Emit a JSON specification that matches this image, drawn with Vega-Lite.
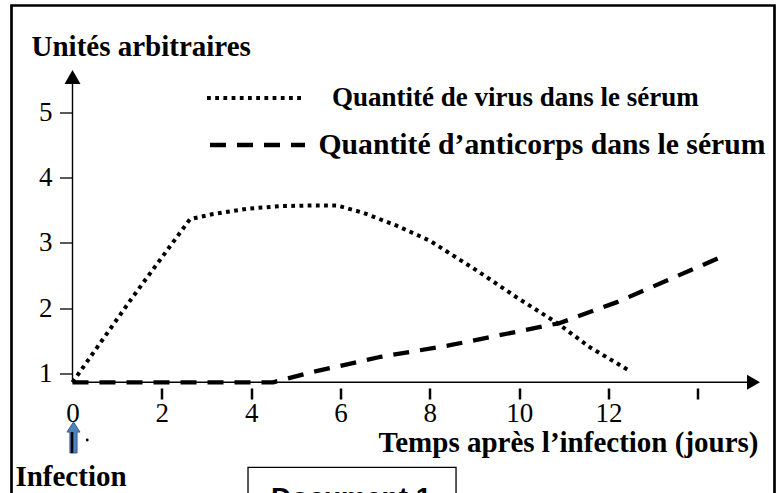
{
  "$schema": "https://vega.github.io/schema/vega-lite/v6.json",
  "width": 763,
  "height": 495,
  "autosize": {"type": "none"},
  "padding": {"left": 11.5, "top": 5.5, "right": 7.5, "bottom": 0},
  "background": "white",
  "config": {
    "view": {"stroke": "black", "strokeWidth": 2.7},
    "font": "Liberation Serif"
  },
  "resolve": {"scale": {"strokeDash": "independent"}, "legend": {"strokeDash": "independent"}},
  "layer": [
    {
      "data": {"values": [{}]},
      "mark": {"type": "rule", "color": "black", "strokeWidth": 1.4},
      "encoding": {
        "x": {"datum": 0, "type": "quantitative", "scale": {"domain": [-1.3656, 15.715], "nice": false, "zero": false}},
        "x2": {"datum": 15.2},
        "y": {"datum": 0.862, "type": "quantitative", "scale": {"domain": [-0.9479, 6.6325], "nice": false, "zero": false}}
      }
    },
    {
      "data": {"values": [{}]},
      "mark": {"type": "rule", "color": "black", "strokeWidth": 1.4},
      "encoding": {
        "x": {"datum": 0, "type": "quantitative", "scale": {"domain": [-1.3656, 15.715], "nice": false, "zero": false}},
        "y": {"datum": 0.862, "type": "quantitative", "scale": {"domain": [-0.9479, 6.6325], "nice": false, "zero": false}},
        "y2": {"datum": 5.5}
      }
    },
    {
      "data": {"values": [{}]},
      "mark": {"type": "point", "shape": "triangle-up", "size": 256, "filled": true, "color": "black", "opacity": 1, "strokeWidth": 0},
      "encoding": {
        "x": {"datum": 0, "type": "quantitative", "scale": {"domain": [-1.3656, 15.715], "nice": false, "zero": false}},
        "y": {"datum": 5.538, "type": "quantitative", "scale": {"domain": [-0.9479, 6.6325], "nice": false, "zero": false}}
      }
    },
    {
      "data": {"values": [{}]},
      "mark": {"type": "point", "shape": "triangle-right", "size": 225, "filled": true, "color": "black", "opacity": 1, "strokeWidth": 0},
      "encoding": {
        "x": {"datum": 15.245, "type": "quantitative", "scale": {"domain": [-1.3656, 15.715], "nice": false, "zero": false}},
        "y": {"datum": 0.862, "type": "quantitative", "scale": {"domain": [-0.9479, 6.6325], "nice": false, "zero": false}}
      }
    },
    {
      "data": {
        "values": [
          {"day": 0, "value": 0.862, "series": "Quantité de virus dans le sérum"},
          {"day": 1.35, "value": 2.17, "series": "Quantité de virus dans le sérum"},
          {"day": 2.63, "value": 3.36, "series": "Quantité de virus dans le sérum"},
          {"day": 3.15, "value": 3.44, "series": "Quantité de virus dans le sérum"},
          {"day": 3.91, "value": 3.52, "series": "Quantité de virus dans le sérum"},
          {"day": 4.65, "value": 3.56, "series": "Quantité de virus dans le sérum"},
          {"day": 5.38, "value": 3.57, "series": "Quantité de virus dans le sérum"},
          {"day": 5.92, "value": 3.57, "series": "Quantité de virus dans le sérum"},
          {"day": 6.5, "value": 3.46, "series": "Quantité de virus dans le sérum"},
          {"day": 7.26, "value": 3.26, "series": "Quantité de virus dans le sérum"},
          {"day": 8.0, "value": 3.03, "series": "Quantité de virus dans le sérum"},
          {"day": 9.06, "value": 2.57, "series": "Quantité de virus dans le sérum"},
          {"day": 9.95, "value": 2.16, "series": "Quantité de virus dans le sérum"},
          {"day": 10.85, "value": 1.77, "series": "Quantité de virus dans le sérum"},
          {"day": 11.58, "value": 1.4, "series": "Quantité de virus dans le sérum"},
          {"day": 12.44, "value": 1.05, "series": "Quantité de virus dans le sérum"}
        ]
      },
      "mark": {"type": "line", "strokeCap": "butt", "strokeJoin": "round", "strokeWidth": 4, "color": "black", "clip": false},
      "encoding": {
        "x": {
          "field": "day", "type": "quantitative",
          "scale": {"domain": [-1.3656, 15.715], "nice": false, "zero": false},
          "axis": {
            "orient": "bottom", "offset": -112.5, "values": [0, 2, 4, 6, 8, 10, 12, 14], "format": "d",
            "domain": false, "grid": false, "tickSize": 11, "tickWidth": 2.5, "tickColor": "black",
            "tickOpacity": {"condition": {"test": "datum.value == 0", "value": 0}, "value": 1},
            "labelExpr": "datum.value == 14 ? '' : datum.label",
            "labelFont": "Liberation Serif", "labelFontSize": 27, "labelColor": "black",
            "labelBaseline": "alphabetic", "labelPadding": 22, "labelOverlap": false, "labelFlush": false,
            "title": "Temps après l’infection (jours)",
            "titleFont": "Liberation Serif", "titleFontWeight": "bold", "titleFontSize": 29, "titleColor": "black",
            "titleAlign": "right", "titleBaseline": "alphabetic", "titleAngle": 0, "titleX": 746.5, "titleY": 63
          }
        },
        "y": {
          "field": "value", "type": "quantitative",
          "scale": {"domain": [-0.9479, 6.6325], "nice": false, "zero": false},
          "axis": {
            "orient": "left", "offset": -61, "values": [1, 2, 3, 4, 5], "format": "d",
            "domain": false, "grid": false, "tickSize": 13, "tickWidth": 1.3, "tickColor": "black",
            "labelFont": "Liberation Serif", "labelFontSize": 27, "labelColor": "black", "labelPadding": 7.5,
            "title": "Unités arbitraires",
            "titleFont": "Liberation Serif", "titleFontWeight": "bold", "titleFontSize": 29, "titleColor": "black",
            "titleAngle": 0, "titleAlign": "left", "titleBaseline": "alphabetic", "titleX": -41.5, "titleY": 49.5
          }
        },
        "strokeDash": {
          "field": "series", "type": "nominal",
          "scale": {"domain": ["Quantité de virus dans le sérum"], "range": [[3.8, 4.4]]},
          "legend": {
            "orient": "none", "legendX": 193.5, "legendY": 79.5, "title": null, "padding": 0,
            "symbolType": "stroke", "symbolSize": 9025, "symbolStrokeWidth": 4, "symbolStrokeColor": "black",
            "labelFont": "Liberation Serif", "labelFontWeight": "bold", "labelFontSize": 27, "labelColor": "black",
            "labelLimit": 1000, "labelOffset": 28, "clipHeight": 26
          }
        }
      }
    },
    {
      "data": {
        "values": [
          {"day": 0, "value": 0.862, "series": "Quantité d’anticorps dans le sérum"},
          {"day": 4.49, "value": 0.862, "series": "Quantité d’anticorps dans le sérum"},
          {"day": 5.38, "value": 1.02, "series": "Quantité d’anticorps dans le sérum"},
          {"day": 6.88, "value": 1.25, "series": "Quantité d’anticorps dans le sérum"},
          {"day": 8.45, "value": 1.43, "series": "Quantité d’anticorps dans le sérum"},
          {"day": 10.91, "value": 1.77, "series": "Quantité d’anticorps dans le sérum"},
          {"day": 12.19, "value": 2.09, "series": "Quantité d’anticorps dans le sérum"},
          {"day": 14.45, "value": 2.76, "series": "Quantité d’anticorps dans le sérum"}
        ]
      },
      "mark": {"type": "line", "strokeCap": "butt", "strokeJoin": "round", "strokeWidth": 4.3, "color": "black", "clip": false},
      "encoding": {
        "x": {"field": "day", "type": "quantitative", "scale": {"domain": [-1.3656, 15.715], "nice": false, "zero": false}},
        "y": {"field": "value", "type": "quantitative", "scale": {"domain": [-0.9479, 6.6325], "nice": false, "zero": false}},
        "strokeDash": {
          "field": "series", "type": "nominal",
          "scale": {"domain": ["Quantité d’anticorps dans le sérum"], "range": [[16, 11]]},
          "legend": {
            "orient": "none", "legendX": 196, "legendY": 126.5, "title": null, "padding": 0,
            "symbolType": "stroke", "symbolSize": 9025, "symbolStrokeWidth": 4.3, "symbolStrokeColor": "black",
            "labelFont": "Liberation Serif", "labelFontWeight": "bold", "labelFontSize": 29.7, "labelColor": "black",
            "labelLimit": 1000, "labelOffset": 11, "clipHeight": 26
          }
        }
      }
    },
    {
      "data": {"values": [{}]},
      "mark": {"type": "text", "text": "Infection", "font": "Liberation Serif", "fontWeight": "bold", "fontSize": 29, "align": "center", "baseline": "alphabetic", "color": "black"},
      "encoding": {
        "x": {"datum": -0.034, "type": "quantitative", "scale": {"domain": [-1.3656, 15.715], "nice": false, "zero": false}},
        "y": {"datum": -0.726, "type": "quantitative", "scale": {"domain": [-0.9479, 6.6325], "nice": false, "zero": false}}
      }
    },
    {
      "data": {"values": [{}]},
      "mark": {"type": "point", "shape": "M0,-1L0.42,-0.35L0.23,-0.35L0.23,1L-0.23,1L-0.23,-0.35L-0.42,-0.35Z", "size": 961, "filled": true, "fill": "#4f81bd", "stroke": "#385d8a", "strokeWidth": 1, "opacity": 1},
      "encoding": {
        "x": {"datum": 0.022, "type": "quantitative", "scale": {"domain": [-1.3656, 15.715], "nice": false, "zero": false}},
        "y": {"datum": 0.017, "type": "quantitative", "scale": {"domain": [-0.9479, 6.6325], "nice": false, "zero": false}}
      }
    },
    {
      "data": {"values": [{}]},
      "mark": {"type": "rule", "color": "black", "strokeWidth": 2.5},
      "encoding": {
        "x": {"datum": -0.01, "type": "quantitative", "scale": {"domain": [-1.3656, 15.715], "nice": false, "zero": false}},
        "y": {"datum": 0.1, "type": "quantitative", "scale": {"domain": [-0.9479, 6.6325], "nice": false, "zero": false}},
        "y2": {"datum": -0.22}
      }
    },
    {
      "data": {"values": [{}]},
      "mark": {"type": "point", "shape": "circle", "size": 8, "filled": true, "color": "black", "opacity": 1},
      "encoding": {
        "x": {"datum": 0.33, "type": "quantitative", "scale": {"domain": [-1.3656, 15.715], "nice": false, "zero": false}},
        "y": {"datum": -0.021, "type": "quantitative", "scale": {"domain": [-0.9479, 6.6325], "nice": false, "zero": false}}
      }
    },
    {
      "data": {"values": [{}]},
      "mark": {"type": "rect", "fill": "white", "stroke": "black", "strokeWidth": 1.3},
      "encoding": {
        "x": {"datum": 3.929, "type": "quantitative", "scale": {"domain": [-1.3656, 15.715], "nice": false, "zero": false}},
        "x2": {"datum": 8.586},
        "y": {"datum": -0.4395, "type": "quantitative", "scale": {"domain": [-0.9479, 6.6325], "nice": false, "zero": false}},
        "y2": {"datum": -1.3}
      }
    },
    {
      "data": {"values": [{}]},
      "mark": {"type": "text", "text": "Document 1", "font": "Liberation Sans", "fontWeight": "bold", "fontSize": 28, "align": "center", "baseline": "alphabetic", "color": "black"},
      "encoding": {
        "x": {"datum": 6.24, "type": "quantitative", "scale": {"domain": [-1.3656, 15.715], "nice": false, "zero": false}},
        "y": {"datum": -1.047, "type": "quantitative", "scale": {"domain": [-0.9479, 6.6325], "nice": false, "zero": false}}
      }
    }
  ]
}
